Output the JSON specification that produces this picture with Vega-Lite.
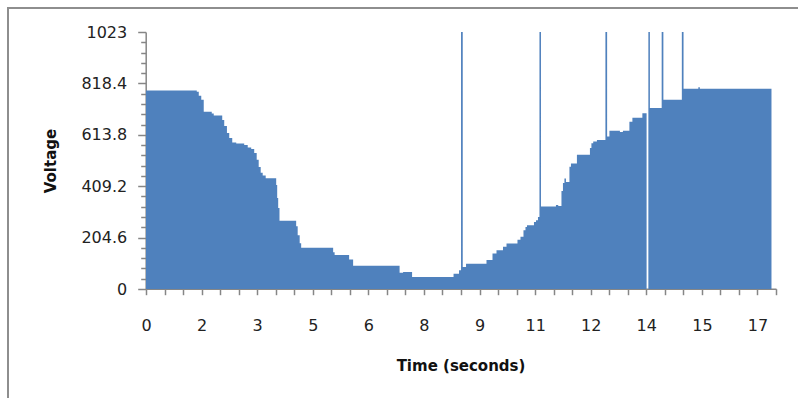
{
  "$schema": "https://vega.github.io/schema/vega-lite/v6.json",
  "width": 790,
  "height": 390,
  "autosize": "none",
  "padding": {"left": 8, "top": 8, "right": 0, "bottom": 0},
  "background": "white",
  "config": {
    "font": "DejaVu Sans",
    "view": {"stroke": "#8e8e8e", "strokeWidth": 2, "strokeDash": [790, 1180, 390]}
  },
  "data": {"values": [
    {"t":0,"v":790},{"t":1.370,"v":785},{"t":1.424,"v":769},{"t":1.491,"v":753},{"t":1.558,"v":706},
    {"t":1.774,"v":699},{"t":1.828,"v":691},{"t":2.057,"v":673},{"t":2.111,"v":649},{"t":2.184,"v":621},
    {"t":2.246,"v":601},{"t":2.327,"v":583},{"t":2.435,"v":579},{"t":2.650,"v":573},{"t":2.745,"v":563},
    {"t":2.839,"v":557},{"t":2.920,"v":541},{"t":2.987,"v":514},{"t":3.041,"v":486},{"t":3.095,"v":463},
    {"t":3.149,"v":452},{"t":3.230,"v":441},{"t":3.513,"v":414},{"t":3.540,"v":362},{"t":3.567,"v":322},
    {"t":3.602,"v":272},{"t":4.052,"v":250},{"t":4.093,"v":214},{"t":4.147,"v":182},{"t":4.187,"v":164},
    {"t":5.050,"v":146},{"t":5.090,"v":135},{"t":5.481,"v":117},{"t":5.589,"v":93},{"t":6.843,"v":65},
    {"t":6.937,"v":68},{"t":7.180,"v":48},{"t":8.299,"v":61},{"t":8.447,"v":75},{"t":8.501,"v":1023},
    {"t":8.547,"v":88},{"t":8.636,"v":101},{"t":9.188,"v":115},{"t":9.350,"v":141},{"t":9.458,"v":154},
    {"t":9.633,"v":168},{"t":9.728,"v":181},{"t":10.024,"v":196},{"t":10.105,"v":208},{"t":10.186,"v":234},
    {"t":10.240,"v":247},{"t":10.280,"v":254},{"t":10.469,"v":267},{"t":10.523,"v":274},{"t":10.577,"v":287},
    {"t":10.617,"v":1023},{"t":10.658,"v":328},{"t":11.062,"v":334},{"t":11.124,"v":330},{"t":11.211,"v":390},
    {"t":11.251,"v":422},{"t":11.291,"v":440},{"t":11.332,"v":426},{"t":11.426,"v":487},{"t":11.467,"v":500},
    {"t":11.628,"v":534},{"t":11.979,"v":561},{"t":12.019,"v":580},{"t":12.068,"v":587},{"t":12.168,"v":593},
    {"t":12.397,"v":1023},{"t":12.443,"v":607},{"t":12.505,"v":630},{"t":12.788,"v":625},{"t":12.869,"v":630},
    {"t":13.044,"v":666},{"t":13.125,"v":682},{"t":13.394,"v":700},{"t":13.508,"v":0},{"t":13.556,"v":1023},
    {"t":13.597,"v":720},{"t":13.915,"v":1023},{"t":13.961,"v":753},{"t":14.459,"v":1023},{"t":14.505,"v":797},
    {"t":14.904,"v":803},{"t":14.945,"v":797},{"t":16.878,"v":797}
  ]},
  "mark": {"type": "area", "interpolate": "step-after", "color": "#4f81bd"},
  "encoding": {
    "x": {
      "field": "t", "type": "quantitative",
      "scale": {"domain": [0, 17], "range": [138, 768], "nice": false, "zero": false},
      "axis": {
        "values": [0,0.5,1,1.5,2,2.5,3,3.5,4,4.5,5,5.5,6,6.5,7,7.5,8,8.5,9,9.5,10,10.5,11,11.5,12,12.5,13,13.5,14,14.5,15,15.5,16,16.5,17],
        "labelExpr": "datum.value % 1.5 == 0 ? '' + round(datum.value) : ''",
        "offset": -109.3,
        "grid": false,
        "domainColor": "#868686", "domainWidth": 1.5,
        "tickColor": "#868686", "tickSize": 6, "tickWidth": 1.5,
        "labelPadding": 23, "labelFont": "DejaVu Sans", "labelFontSize": 16, "labelColor": "#222222",
        "labelOverlap": false, "labelFlush": false, "labelBound": false,
        "title": "Time (seconds)", "titleFont": "DejaVu Sans", "titleFontWeight": "bold", "titleFontSize": 15,
        "titleColor": "#111111",
        "titleX": 452.5, "titleY": 77, "titleBaseline": "middle", "titleAlign": "center"
      }
    },
    "y": {
      "field": "v", "type": "quantitative",
      "scale": {"domain": [0, 1023], "range": [281, 24], "nice": false},
      "axis": {
        "values": [0,40.92,81.84,122.76,163.68,204.6,245.52,286.44,327.36,368.28,409.2,450.12,491.04,531.96,572.88,613.8,654.72,695.64,736.56,777.48,818.4,859.32,900.24,941.16,982.08,1023],
        "labelExpr": "indexof([0,204.6,409.2,613.8,818.4,1023], datum.value) >= 0 ? '' + datum.value : ''",
        "tickSize": {"condition": {"test": "indexof([0,204.6,409.2,613.8,818.4,1023], datum.value) >= 0", "value": 8}, "value": 5},
        "offset": -137.7,
        "grid": false,
        "domainColor": "#868686", "domainWidth": 1.5,
        "tickColor": "#868686", "tickWidth": 1.5,
        "labelPadding": 11, "labelFont": "DejaVu Sans", "labelFontSize": 16, "labelColor": "#222222",
        "labelOverlap": false, "labelFlush": false, "labelBound": false,
        "title": "Voltage", "titleFont": "DejaVu Sans", "titleFontWeight": "bold", "titleFontSize": 15,
        "titleColor": "#111111",
        "titleX": -95.7, "titleY": 152.5, "titleBaseline": "middle", "titleAlign": "center", "titleAngle": -90
      }
    }
  }
}
